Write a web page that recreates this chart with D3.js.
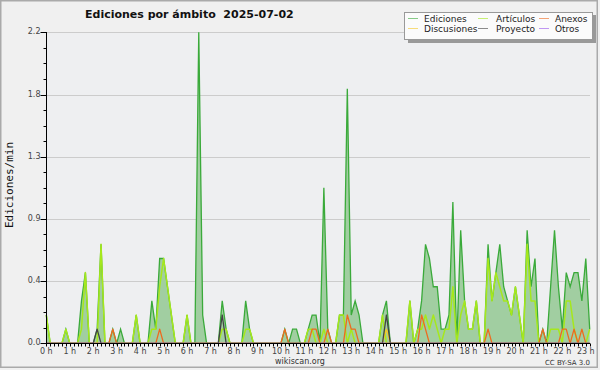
<!DOCTYPE html>
<html><head><meta charset="utf-8">
<script src="https://cdn.jsdelivr.net/npm/d3@7"></script>
<style>body{margin:0;background:#f0f0f0}svg{display:block}</style>
</head><body>
<svg id="c" width="600" height="370"></svg>
<script>
// ---- data (edits per minute, per 10-minute slot, 00:00 .. 23:10) ----
const slotMinutes = d3.range(0, 1400, 10);
const hourLabels = ["0 h","1 h","2 h","3 h","4 h","5 h","6 h","7 h","8 h","9 h","10 h","11 h","12 h","13 h","14 h","15 h","16 h","17 h","18 h","19 h","20 h","21 h","22 h","23 h"];
const yTickValues = [0, 0.44, 0.88, 1.32, 1.76, 2.2];
const yTickLabels = ["0.0","0.4","0.9","1.3","1.8","2.2"];

const ediciones = [
0.2,0,0,0,0,0.1,0,0,0,0.3, 0.5,0,0,0.1,0.7,0,0,0.1,0,0.1,
0,0,0,0.2,0,0,0,0.3,0.1,0.6, 0.6,0.4,0.2,0,0,0,0.2,0,0,2.2,
0.2,0,0,0,0,0.3,0.1,0,0,0, 0,0.3,0.1,0,0,0,0,0,0,0,
0,0.1,0,0.1,0.1,0,0,0.1,0.2,0.2, 0,1.1,0.1,0,0,0.2,0.2,1.8,0.2,0.3,
0.2,0,0,0,0,0,0.2,0.3,0,0, 0,0,0,0.3,0,0.1,0.3,0.7,0.6,0.4,
0.4,0.1,0.1,0.2,1.0,0,0.8,0.3,0.1,0.1, 0.3,0,0,0.7,0.3,0.5,0.7,0.4,0.3,0.2,
0.4,0.2,0,0.8,0.4,0.6,0,0.1,0,0.4, 0.8,0.4,0.1,0.5,0.4,0.5,0.5,0.3,0.6,0.1];
const articulos = [
0.2,0,0,0,0,0.1,0,0,0,0.1, 0.5,0,0,0,0.7,0,0,0,0,0,
0,0,0,0.2,0,0,0,0.1,0.1,0.4, 0.6,0.4,0.2,0,0,0,0.2,0,0,0,
0,0,0,0,0,0.1,0.1,0,0,0, 0,0.1,0.1,0,0,0,0,0,0,0,
0,0,0,0,0,0,0,0.1,0.1,0, 0,0.1,0,0,0,0.2,0.2,0,0.1,0,
0,0,0,0,0,0,0.2,0,0,0, 0,0,0,0.3,0,0.1,0.1,0.2,0.1,0.2,
0.1,0,0.1,0.1,0.4,0,0.2,0.3,0.1,0.1, 0.3,0,0,0.6,0.3,0.5,0.4,0.3,0.3,0.2,
0.4,0.2,0,0.7,0.3,0.3,0,0,0,0.1, 0.1,0.1,0,0.3,0.3,0.1,0,0,0,0.1];
const anexos = [
0,0,0,0,0,0,0,0,0,0, 0,0,0,0,0,0,0,0.1,0,0,
0,0,0,0,0,0,0,0,0,0.1, 0,0,0,0,0,0,0,0,0,0,
0,0,0,0,0,0,0,0,0,0, 0,0,0,0,0,0,0,0,0,0,
0,0.1,0,0,0,0,0,0,0.1,0.1, 0,0,0.1,0,0,0,0,0.2,0.1,0.1,
0,0,0,0,0,0,0,0,0,0, 0,0,0,0,0,0,0.2,0.1,0,0,
0,0,0,0,0,0,0,0,0,0, 0,0,0,0.1,0,0,0,0,0,0,
0,0,0,0,0,0,0,0.1,0,0, 0,0,0.1,0.1,0,0.1,0,0.1,0,0];
const discusionesAt = {87: 0.1};
const proyectoAt = {13: 0.1, 45: 0.2, 87: 0.2};
const discusiones = slotMinutes.map((m,i)=> discusionesAt[i] || 0);
const proyecto = slotMinutes.map((m,i)=> proyectoAt[i] || 0);
const otros = slotMinutes.map(()=>0);

const seriesNames = ["Ediciones","Artículos","Anexos","Discusiones","Proyecto","Otros"];
const seriesColors = ["#3aaa3a","#a6e81c","#ee6a1e","#f5c826","#444444","#9955ee"];

// ---- chart ----
const svg = d3.select("#c");
const FONT = "DejaVu Sans, sans-serif";

svg.append("rect").attr("x",0.75).attr("y",0.75).attr("width",596.5).attr("height",366.5)
  .attr("fill","#f0f0f0").attr("stroke","#aaaaaa").attr("stroke-width",1.5);

const x = d3.scaleLinear().domain([0, 1390]).range([46.3, 589.7]);
const y = d3.scaleLinear().domain([0, 2.2]).range([343.3, 32.3]);

svg.append("rect").attr("x",47).attr("y",32).attr("width",543).attr("height",311.5).attr("fill","#eeeff1");

// grid
svg.append("g").selectAll("line").data(yTickValues.slice(1)).join("line")
  .attr("x1",47).attr("x2",590)
  .attr("y1",d=>Math.round(y(d))+0.5).attr("y2",d=>Math.round(y(d))+0.5)
  .attr("stroke","#cccccc").attr("stroke-width",1);

const pts = s => s.map((v,i)=>({t:slotMinutes[i], v}));
const area = d3.area().x(d=>x(d.t)).y0(y(0)).y1(d=>y(d.v));
const line = d3.line().x(d=>x(d.t)).y(d=>y(d.v));

svg.append("path").attr("d", area(pts(ediciones))).attr("fill","#a1cea1");
svg.append("path").attr("d", line(pts(ediciones))).attr("fill","none").attr("stroke",seriesColors[0]).attr("stroke-width",1.3);
[[articulos,1],[anexos,2],[discusiones,3],[proyecto,4],[otros,5]].forEach(([s,k])=>{
  svg.append("path").attr("d", line(pts(s))).attr("fill","none").attr("stroke",seriesColors[k])
    .attr("stroke-width",k===1?1.5:1.3).attr("stroke-linejoin","round");
});

// axes
const yAxis = svg.append("g").attr("transform","translate(46.5,0)");
yAxis.append("line").attr("x1",0).attr("x2",0).attr("y1",32).attr("y2",343.5).attr("stroke","#000");
yAxis.selectAll(".mn").data(d3.range(0,21)).join("line")
  .attr("x1",-3).attr("x2",0)
  .attr("y1",d=>Math.round(y(d*0.11))+0.5).attr("y2",d=>Math.round(y(d*0.11))+0.5).attr("stroke","#000");
yAxis.selectAll(".mj").data(yTickValues).join("line")
  .attr("x1",-6).attr("x2",0)
  .attr("y1",d=>Math.round(y(d))+0.5).attr("y2",d=>Math.round(y(d))+0.5).attr("stroke","#000");
yAxis.selectAll("text").data(yTickValues).join("text")
  .attr("x",-6).attr("y",d=>y(d)+2).attr("text-anchor","end")
  .attr("font-family",FONT).attr("font-size",8).attr("fill","#444").text((d,i)=>yTickLabels[i]);

const xAxis = svg.append("g").attr("transform","translate(0,343.5)");
xAxis.append("line").attr("x1",46.5).attr("x2",590).attr("y1",0).attr("y2",0).attr("stroke","#000");
xAxis.selectAll("line.t").data(slotMinutes).join("line").attr("class","t")
  .attr("x1",d=>Math.round(x(d))+0.5).attr("x2",d=>Math.round(x(d))+0.5)
  .attr("y1",0).attr("y2",3).attr("stroke","#000");
xAxis.selectAll("text").data(hourLabels).join("text")
  .attr("x",(d,i)=>x(i*60)).attr("y",10).attr("text-anchor","middle")
  .attr("font-family",FONT).attr("font-size",8).attr("fill","#444").text(d=>d);

// titles
svg.append("text").attr("x",85).attr("y",18).attr("font-family",FONT).attr("font-weight","bold")
  .attr("font-size",11).attr("fill","#111").attr("xml:space","preserve").text("Ediciones por ámbito  2025-07-02");
svg.append("text").attr("transform","translate(13,185) rotate(-90)").attr("text-anchor","middle")
  .attr("font-family","DejaVu Sans Mono, monospace").attr("font-size",11).attr("fill","#111").text("Ediciones/min");
svg.append("text").attr("x",300).attr("y",364).attr("text-anchor","middle")
  .attr("font-family",FONT).attr("font-size",8).attr("fill","#333").text("wikiscan.org");
svg.append("text").attr("x",590).attr("y",365).attr("text-anchor","end")
  .attr("font-family",FONT).attr("font-size",7).attr("fill","#333").text("CC BY-SA 3.0");

// legend
const lg = svg.append("g");
lg.append("rect").attr("x",408).attr("y",15).attr("width",188).attr("height",28).attr("fill","#999");
lg.append("rect").attr("x",404.5).attr("y",12.5).attr("width",188).attr("height",27).attr("fill","#fbfbfb").attr("stroke","#999");
const colX = [408, 478, 539], textX = [424, 496, 555], rowY = [19, 29];
seriesNames.forEach((name,k)=>{
  const c = k%3, r = Math.floor(k/3);
  lg.append("line").attr("x1",colX[c]).attr("x2",colX[c]+10).attr("y1",rowY[r]-0.5).attr("y2",rowY[r]-0.5)
    .attr("stroke",seriesColors[k]).attr("stroke-width",1).attr("opacity",0.6);
  lg.append("text").attr("x",textX[c]).attr("y",rowY[r]+3).attr("font-family",FONT).attr("font-size",9)
    .attr("fill","#222").text(name);
});
</script>
</body></html>
